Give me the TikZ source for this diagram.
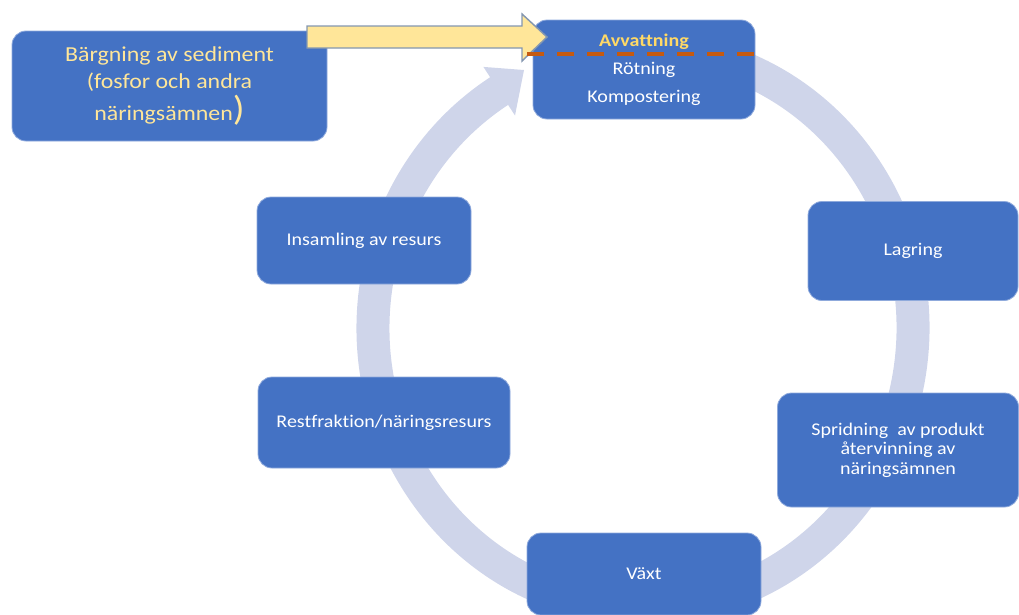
\documentclass[tikz,border=0pt]{standalone}
\usepackage{fontspec}
\setmainfont{Carlito}[FakeStretch=1.12, RawFeature=-liga]
\definecolor{boxblue}{HTML}{4472C4}
\definecolor{boxedge}{HTML}{8FAADC}
\definecolor{ringc}{HTML}{CFD5EA}
\definecolor{arrowy}{HTML}{FFE699}
\definecolor{arrowedge}{HTML}{8497B0}
\definecolor{avv}{HTML}{FFD966}
\definecolor{dashc}{HTML}{C55A11}
\begin{document}
\begin{tikzpicture}[x=0.75pt,y=-0.75pt,
  box/.style={draw=boxedge, line width=0.6pt, fill=boxblue, rounded corners=10.5pt,
    text=white, align=center, inner sep=0pt, font=\fontsize{13.4}{14.6}\selectfont},
  ring/.style={ringc, line width=24.75pt},
  yarrow/.style={fill=arrowy, draw=arrowedge, line width=1.1pt, line join=miter},
  cut/.style={dashc, line width=3pt, dash pattern=on 12.75pt off 9.75pt}
  ]
\useasboundingbox (0,0) rectangle (1019,614);
% cycle ring
\coordinate (rs) at ({643+270*cos(-80)},{328+280*sin(-80)});
\draw[ring] (rs) arc[start angle=-80, end angle=238, x radius=270, y radius=280] coordinate (rb);
\coordinate (w1) at (515.0,115.5);
\coordinate (w2) at (483.4,66.9);
\coordinate (tip) at (524,70);
\fill[ringc] (w1) -- (tip) -- (w2) -- cycle;
% boxes
\node[box, minimum width=236.25pt, minimum height=82.5pt, text=arrowy,
  font=\fontsize{16}{20.25}\selectfont] (barg) at (169.5,86)
  {Bärgning av sediment\\(fosfor och andra\\[2pt]näringsämnen{\fontsize{26}{26}\selectfont)}};
\node[box, minimum width=166.5pt, minimum height=74.25pt,
  font=\fontsize{13.4}{21}\selectfont] (top) at (644,69.5)
  {{\bfseries\color{avv}Avvattning}\\Rötning\\Kompostering};
\node[box, minimum width=157.5pt, minimum height=74.25pt] (lag) at (913,251) {Lagring};
\node[box, minimum width=180.75pt, minimum height=85.5pt] (sprid) at (898,450)
  {Spridning\ \ av produkt\\återvinning av\\näringsämnen};
\node[box, minimum width=175.5pt, minimum height=61.5pt] (vaxt) at (644,574) {Växt};
\node[box, minimum width=189pt, minimum height=68.25pt] (rest) at (384,422.5) {Restfraktion/näringsresurs};
\node[box, minimum width=160.5pt, minimum height=65.25pt] (ins) at (364,240.5) {Insamling av resurs};
% yellow block arrow from barg to top
\coordinate (a1) at (307,26);
\coordinate (a2) at (522,26);
\coordinate (a3) at (522,14);
\coordinate (a4) at (547,37);
\coordinate (a5) at (522,61);
\coordinate (a6) at (522,48);
\coordinate (a7) at (307,48);
\draw[yarrow] (a1) -- (a2) -- (a3) -- (a4) -- (a5) -- (a6) -- (a7) -- cycle;
% dashed line
\coordinate (d1) at (527,54);
\coordinate (d2) at (764,54);
\draw[cut] (d1) -- (d2);
\end{tikzpicture}
\end{document}
